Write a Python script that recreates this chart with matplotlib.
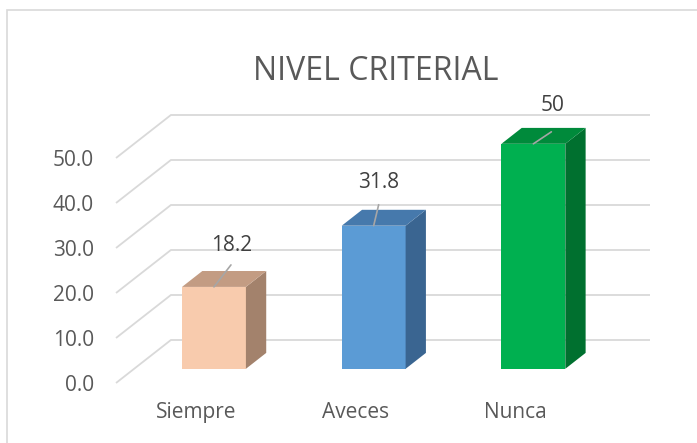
import numpy as np
import matplotlib.pyplot as plt
from matplotlib.patches import Polygon, Rectangle

categories = ["Siempre", "Aveces", "Nunca"]
values = [18.2, 31.8, 50]
value_labels = ["18.2", "31.8", "50"]
y_ticks = [0, 10, 20, 30, 40, 50]

front_colors = ["#F8CBAD", "#5B9BD5", "#00B050"]
top_colors = ["#C39C83", "#4679AC", "#008A3B"]
side_colors = ["#A3826C", "#3A6591", "#00702F"]

# pseudo-3d layout (back wall offset, in data units)
W, H = 697, 443
DDX = 55 / 160
DDY = 43 / 4.5
D0, D1 = 0.33, 0.70
BAR_W = 0.40
# label nudges in pixels (label centre, leader end)
label_nudge = [(18, 41, 17, 22), (5, 43, 5, 21), (19, 38, 18, 12)]

plt.rcParams["font.family"] = ["Open Sans", "DejaVu Sans"]
fig = plt.figure(figsize=(W / 100, H / 100), dpi=100)

# axes: x in categories, y in values; left edge = front plane at x=-0.5
left_px, right_px, bot_px, top_px = 116, 650, 383, 115
ax = fig.add_axes([left_px / W, (H - bot_px) / H,
                   (right_px - left_px) / W, (bot_px - top_px) / H])
ax.set_xlim(-0.5, 2.5 + DDX)
ax.set_ylim(0, 50 + DDY)
for s in ax.spines.values():
    s.set_visible(False)

# gridlines: diagonal on the side wall, then flat along the back
grid_c = "#D9D9D9"
for v in y_ticks:
    ax.plot([-0.5, -0.5 + DDX, 2.5 + DDX], [v, v + DDY, v + DDY],
            color=grid_c, lw=1.3, zorder=1, clip_on=False, solid_capstyle="butt")

x = np.arange(len(categories))
shift_x, shift_y = D0 * DDX, D0 * DDY
dx, dy = (D1 - D0) * DDX, (D1 - D0) * DDY
ax.bar(x + shift_x, values, bottom=shift_y, width=BAR_W,
       color=front_colors, zorder=3)
for i, v in enumerate(values):
    xl = x[i] + shift_x - BAR_W / 2
    xr = xl + BAR_W
    b = shift_y
    t = b + v
    ax.add_patch(Polygon([(xr, b), (xr + dx, b + dy), (xr + dx, t + dy), (xr, t)],
                         closed=True, facecolor=side_colors[i], edgecolor="none", zorder=3))
    ax.add_patch(Polygon([(xl, t), (xr, t), (xr + dx, t + dy), (xl + dx, t + dy)],
                         closed=True, facecolor=top_colors[i], edgecolor="none", zorder=3))
    lx, ly, ex, ey = label_nudge[i]
    ax.annotate(value_labels[i], (x[i] + shift_x, t), xytext=(lx * 0.72, ly * 0.72),
                textcoords="offset points", ha="center", va="center",
                fontsize=15, color="#404040", zorder=5)
    ax.annotate("", (x[i] + shift_x, t), xytext=(ex * 0.72, ey * 0.72),
                textcoords="offset points",
                arrowprops=dict(arrowstyle="-", color="#A6A6A6", lw=1.2,
                                shrinkA=0, shrinkB=0), zorder=5)

ax.set_xticks(x)
ax.set_xticklabels(categories)
ax.set_yticks(y_ticks)
ax.set_yticklabels([f"{v:.1f}" for v in y_ticks])
ax.tick_params(axis="both", length=0, labelsize=15, labelcolor="#595959")
ax.tick_params(axis="y", pad=16)
ax.tick_params(axis="x", pad=14)

fig.text(376 / W, 1 - 72 / H, "NIVEL CRITERIAL", ha="center", va="center",
         fontsize=23, color="#595959")

# chart border
fig.add_artist(Rectangle((7 / W, -0.1), 1.2, (H - 10) / H + 0.1,
                         transform=fig.transFigure, fill=False,
                         edgecolor="#D9D9D9", lw=1.2))

fig.savefig("out.png", dpi=100)
